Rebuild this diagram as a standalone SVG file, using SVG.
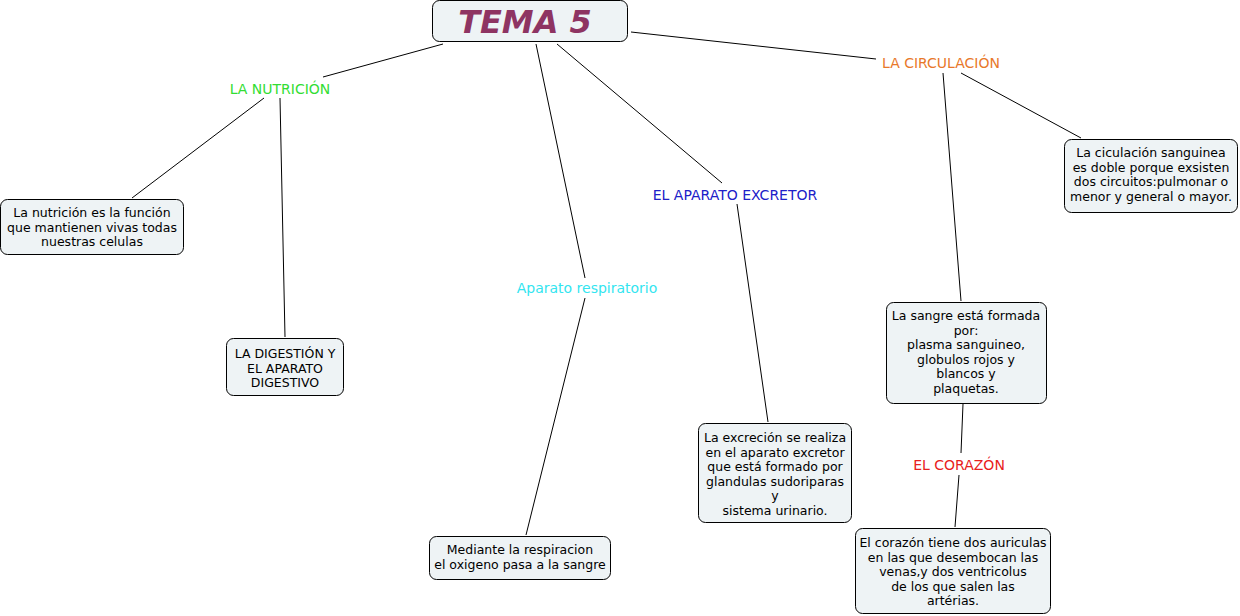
<svg xmlns="http://www.w3.org/2000/svg" width="1240" height="616" viewBox="0 0 1240 616">
<style>
.box{fill:#eef3f5;stroke:#000;stroke-width:1}
.t{font-family:"DejaVu Sans",Verdana,sans-serif;font-size:12.5px;fill:#000;text-anchor:middle}
.lbl{font-family:"DejaVu Sans",Verdana,sans-serif;font-size:14px;text-anchor:middle}
.c line{stroke:#000;stroke-width:1}
</style>
<rect width="1240" height="616" fill="#fff"/>
<g class="c" id="connectors">
<line x1="443" y1="44" x2="323" y2="77"/>
<line x1="536" y1="44" x2="585" y2="278"/>
<line x1="557" y1="44" x2="722" y2="183"/>
<line x1="631" y1="32" x2="876" y2="59"/>
<line x1="264" y1="98" x2="132" y2="198"/>
<line x1="280" y1="98" x2="285" y2="337"/>
<line x1="585" y1="298" x2="526" y2="535"/>
<line x1="737" y1="204" x2="768" y2="422"/>
<line x1="943" y1="73" x2="961" y2="301"/>
<line x1="961" y1="73" x2="1081" y2="138"/>
<line x1="963" y1="404" x2="961" y2="453"/>
<line x1="959" y1="475" x2="955" y2="527"/>
</g>
<g id="tema5">
<rect class="box" x="432.5" y="0.5" width="195" height="41" rx="7"/>
<text x="525" y="33" font-family="'DejaVu Sans',Verdana,sans-serif" font-size="32" font-weight="bold" font-style="italic" fill="#8e3462" text-anchor="middle">TEMA 5</text>
</g>
<g id="nutricion"><text class="lbl" x="280" y="94" fill="#33dd33">LA NUTRICIÓN</text></g>
<g id="circulacion"><text class="lbl" x="941" y="68" fill="#e8782a">LA CIRCULACIÓN</text></g>
<g id="excretor"><text class="lbl" x="735" y="200" fill="#2020c8">EL APARATO EXCRETOR</text></g>
<g id="respiratorio"><text class="lbl" x="587" y="293" fill="#33e5f0">Aparato respiratorio</text></g>
<g id="corazon"><text class="lbl" x="959" y="470" fill="#e82020">EL CORAZÓN</text></g>
<g id="n-nutricion">
<rect class="box" x="0.5" y="199.5" width="183" height="55" rx="7"/>
<text class="t" x="92" y="217">La nutrición es la función</text>
<text class="t" x="92" y="231.5">que mantienen vivas todas</text>
<text class="t" x="92" y="246">nuestras celulas</text>
</g>
<g id="n-digestion">
<rect class="box" x="226.5" y="338.5" width="117" height="57" rx="7"/>
<text class="t" x="285" y="358">LA DIGESTIÓN Y</text>
<text class="t" x="285" y="372.5">EL APARATO</text>
<text class="t" x="285" y="387">DIGESTIVO</text>
</g>
<g id="n-mediante">
<rect class="box" x="429.5" y="536.5" width="181" height="43" rx="7"/>
<text class="t" x="520" y="554">Mediante la respiracion</text>
<text class="t" x="520" y="568.5">el oxigeno pasa a la sangre</text>
</g>
<g id="n-excrecion">
<rect class="box" x="698.5" y="423.5" width="153" height="99" rx="7"/>
<text class="t" x="775" y="442">La excreción se realiza</text>
<text class="t" x="775" y="456.5">en el aparato excretor</text>
<text class="t" x="775" y="471">que está formado por</text>
<text class="t" x="775" y="485.5">glandulas sudoriparas</text>
<text class="t" x="775" y="500">y</text>
<text class="t" x="775" y="514.5">sistema urinario.</text>
</g>
<g id="n-corazon">
<rect class="box" x="855.5" y="528.5" width="195" height="85" rx="7"/>
<text class="t" x="953" y="547">El corazón tiene dos auriculas</text>
<text class="t" x="953" y="561.5">en las que desembocan las </text>
<text class="t" x="953" y="576">venas,y dos ventricolus</text>
<text class="t" x="953" y="590.5">de los que salen las</text>
<text class="t" x="953" y="605">artérias.</text>
</g>
<g id="n-sangre">
<rect class="box" x="886.5" y="302.5" width="160" height="101" rx="7"/>
<text class="t" x="966" y="320">La sangre está formada</text>
<text class="t" x="966" y="334.5">por:</text>
<text class="t" x="966" y="349">plasma sanguineo,</text>
<text class="t" x="966" y="363.5">globulos rojos y</text>
<text class="t" x="966" y="378">blancos y</text>
<text class="t" x="966" y="392.5">plaquetas.</text>
</g>
<g id="n-ciculacion">
<rect class="box" x="1064.5" y="139.5" width="173" height="73" rx="7"/>
<text class="t" x="1151" y="157">La ciculación sanguinea</text>
<text class="t" x="1151" y="171.5">es doble porque exsisten</text>
<text class="t" x="1151" y="186">dos circuitos:pulmonar o</text>
<text class="t" x="1151" y="200.5">menor y general o mayor.</text>
</g>
</svg>
